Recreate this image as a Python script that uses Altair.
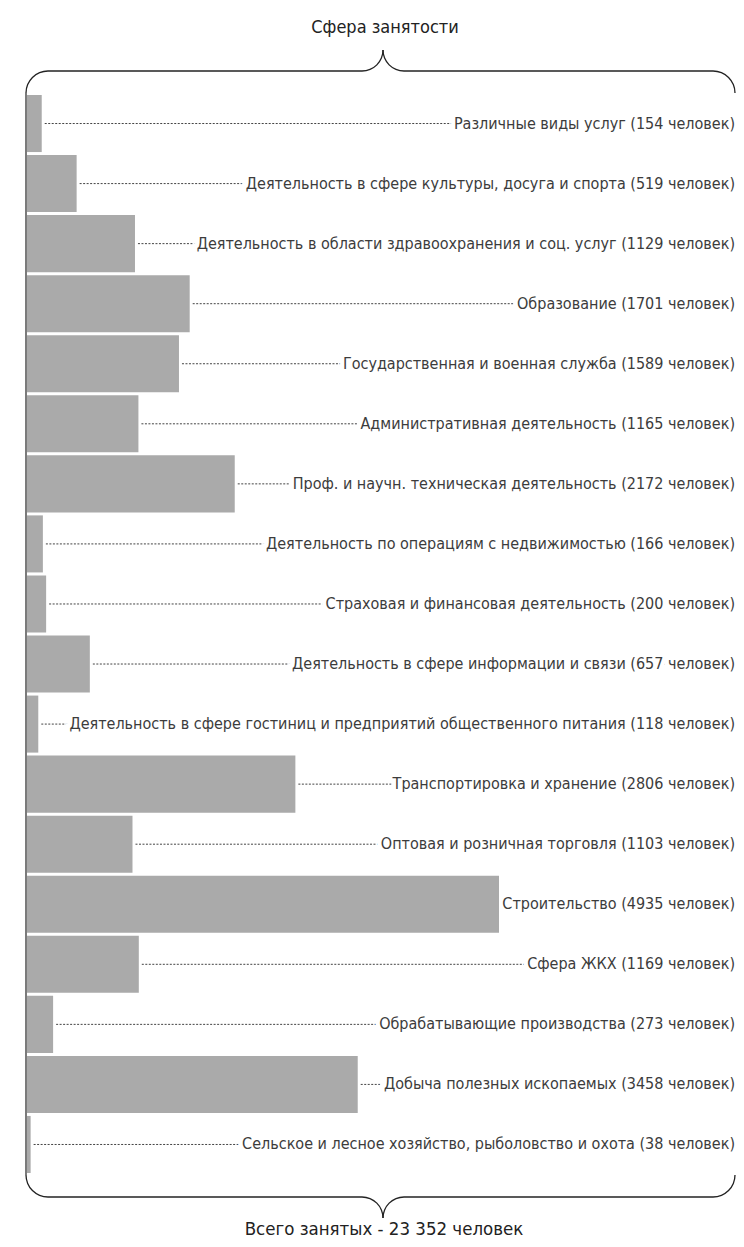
import altair as alt
import pandas as pd

categories = [
    "Различные виды услуг",
    "Деятельность в сфере культуры, досуга и спорта",
    "Деятельность в области здравоохранения и соц. услуг",
    "Образование",
    "Государственная и военная служба",
    "Административная деятельность",
    "Проф. и научн. техническая деятельность",
    "Деятельность по операциям с недвижимостью",
    "Страховая и финансовая деятельность",
    "Деятельность в сфере информации и связи",
    "Деятельность в сфере гостиниц и предприятий общественного питания",
    "Транспортировка  и хранение",
    "Оптовая и розничная торговля",
    "Строительство",
    "Сфера ЖКХ",
    "Обрабатывающие производства",
    "Добыча полезных ископаемых",
    "Сельское и лесное хозяйство, рыболовство и охота",
]
values = [154, 519, 1129, 1701, 1589, 1165, 2172, 166, 200, 657, 118, 2806, 1103, 4935, 1169, 273, 3458, 38]
title_top = "Сфера занятости"
title_bottom = "Всего занятых - 23 352 человек"

FONT = "DejaVu Sans Condensed"
W, H = 709, 1078
R = 708  # right edge of labels / brace

df = pd.DataFrame({
    "cat": categories,
    "val": values,
    "label": [f"{c} ({v} человек)" for c, v in zip(categories, values)],
})

yenc = alt.Y("cat:N", sort=categories, axis=None,
             scale=alt.Scale(paddingInner=0.05, paddingOuter=0.0))
xscale = alt.Scale(domain=[0, 7413], nice=False, zero=True)

base = alt.Chart(df)
bars = base.mark_bar(color="#aaaaaa").encode(
    x=alt.X("val:Q", scale=xscale, axis=None), y=yenc)
leaders = base.mark_rule(color="#444444", strokeWidth=1, strokeDash=[2, 1.5], xOffset=3).encode(
    x=alt.X("val:Q", scale=xscale, axis=None), x2=alt.value(R - 10), y=yenc)
halo = base.mark_text(align="right", baseline="middle", font=FONT, fontSize=16,
                      fill="white", stroke="white", strokeWidth=9).encode(
    x=alt.value(R), y=yenc, text="label:N")
labels = base.mark_text(align="right", baseline="middle", font=FONT, fontSize=16,
                        color="#3c3c3c").encode(
    x=alt.value(R), y=yenc, text="label:N")

one = pd.DataFrame({"k": [0]})
INK = "#222222"

def hline(x1, x2, y):
    return alt.Chart(one).mark_rule(color=INK, strokeWidth=1.3).encode(
        x=alt.value(x1), x2=alt.value(x2), y=alt.value(y))

def vline(x, y1, y2):
    return alt.Chart(one).mark_rule(color="#333333", strokeWidth=1.3).encode(
        x=alt.value(x), y=alt.value(y1), y2=alt.value(y2))

def arc(cx, cy, r, t1, t2):
    return alt.Chart(one).mark_arc(theta=t1, theta2=t2, radius=r + 0.65, radius2=r - 0.65,
                                   color=INK).encode(x=alt.value(cx), y=alt.value(cy))

PI = 3.14159265
deco = [
    # top brace
    hline(21, 335, -24), hline(377, R - 22, -24),
    arc(21, -2, 22, 1.5 * PI, 2 * PI), arc(R - 22, -2, 22, 0, 0.5 * PI),
    arc(335, -45, 21, 0.5 * PI, PI), arc(377, -45, 21, PI, 1.5 * PI),
    # left side
    vline(-1, -2, 1080),
    # bottom brace
    hline(21, 335, 1102), hline(377, R - 22, 1102),
    arc(21, 1080, 22, PI, 1.5 * PI), arc(R - 22, 1080, 22, 0.5 * PI, PI),
    arc(335, 1123, 21, 0, 0.5 * PI), arc(377, 1123, 21, 1.5 * PI, 2 * PI),
]

t_top = alt.Chart(one).mark_text(text=title_top, font=FONT, fontSize=18, color="#222222",
                                 align="center", baseline="middle").encode(
    x=alt.value(358), y=alt.value(-67))
t_bot = alt.Chart(one).mark_text(text=title_bottom, font=FONT, fontSize=18.5, color="#222222",
                                 align="center", baseline="middle").encode(
    x=alt.value(357), y=alt.value(1134))

chart = alt.layer(leaders, halo, bars, labels, *deco, t_top, t_bot).properties(
    width=W, height=H,
    padding={"left": 19, "top": 87, "right": 0, "bottom": 66},
    autosize=alt.AutoSizeParams(type="none"),
).configure_view(stroke=None)

chart.save("out.html", embed_options={"renderer": "svg", "actions": False})
